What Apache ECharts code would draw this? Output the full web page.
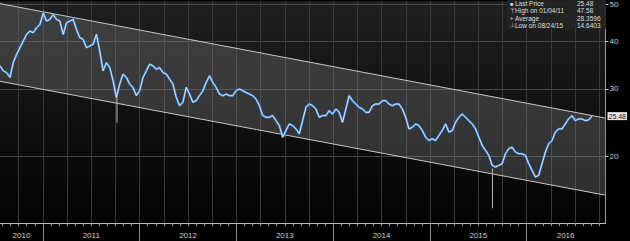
<!DOCTYPE html>
<html><head><meta charset="utf-8">
<script src="https://cdn.jsdelivr.net/npm/echarts@6/dist/echarts.min.js"></script>
<style>html,body{margin:0;padding:0;background:#000;}#c{width:630px;height:241px;}</style>
</head><body><div id="c"></div>
<script>
// ---- data ----
const startYear = 2010.557;      // first sample (decimal year)
const stepYears = 0.034364;      // sample spacing (~12.5 days)
const prices = [
34.47,33.45,33.1,32.15,35.2,36.95,38.46,40.03,41.65,42.49,42.06,43.34,44.2,47.3,45.11,45.56,46.95,45.56,45.11,41.65,44.66,45.11,45.56,42.9,40.83,40.43,38.46,38.85,39.24,41.65,37.7,33.45,35.16,34.12,31.51,28.52,30.89,32.8,32.15,30.89,30.27,28.81,29.68,32.15,33.45,
34.82,34.47,33.78,34.12,33.1,32.8,31.82,30.89,28.52,27.13,27.68,30.27,29.1,27.68,27.96,28.81,29.68,31.19,32.47,31.19,30.27,29.1,28.81,29.1,28.81,28.81,29.68,29.98,29.68,29.38,29.1,28.81,28.24,27.13,25.56,25.3,25.3,25.56,24.8,24.07,22.45,23.37,24.31,24.07,23.59,
22.9,24.8,26.86,27.4,27.13,26.59,25.3,25.56,25.56,26.33,25.8,26.59,26.07,24.55,26.59,28.81,27.96,27.4,26.86,26.59,26.07,26.07,27.13,27.4,27.4,27.96,27.96,27.4,27.13,27.4,27.4,26.59,25.3,23.59,23.83,24.31,24.07,23.37,22.45,22.01,22.23,22.01,22.68,23.37,24.31,
23.14,23.37,24.55,25.3,25.8,25.3,24.8,24.31,23.59,22.45,21.36,20.73,20.12,18.95,18.76,18.95,19.14,20.32,20.94,21.15,20.52,20.32,20.32,20.12,19.14,18.39,17.67,17.85,19.14,20.52,21.57,22.01,23.14,23.59,23.59,24.31,25.05,25.56,24.8,25.05,25.05,24.8,24.9,25.48
];
const spikeDates = [2011.766, 2015.646];
const spikeTops  = [28.5, 18.6];
const spikeLows  = [24.5, 14.64];
const channelDates = [2010.557, 2016.814];
const channelUpper = [50.1, 25.18];
const channelLower = [31.41, 15.84];
const yearLabels   = ['2010','2011','2012','2013','2014','2015','2016'];
const yearLabelPos = [2010.779, 2011.5, 2012.5, 2013.5, 2014.5, 2015.5, 2016.402];
const yearBounds   = [2011, 2012, 2013, 2014, 2015, 2016];
const yTicks = [20, 30, 40, 50];
const yRange = [13.40, 50.84];
const xRange = [2010.557, 2016.814];
const lastPrice = 25.48;
const statIcons  = ['\u25A0', '\u22A4', '+', '\u22A5'];
const statNames  = ['Last Price', 'High on 01/04/11', 'Average', 'Low on 08/24/15'];
const statValues = ['25.48', '47.58', '28.3596', '14.6403'];

// ---- build ----
const lg = Math.log10;
const priceData = prices.map((p, i) => [startYear + i * stepYears, lg(p)]);
const months = [];
for (let y = 2010; y <= 2016; y++) for (let m = 0; m < 12; m++) {
  const v = y + m / 12; if (v > xRange[0] && v < xRange[1]) months.push(v);
}
const quarters = [];
for (let y = 2010; y <= 2016; y++) for (let q = 0; q < 4; q++) {
  const v = y + q / 4; if (v > xRange[0] && v < xRange[1]) quarters.push(v);
}
const FONT = 'Liberation Sans';
const chart = echarts.init(document.getElementById('c'), null, {renderer: 'svg'});

const spikeSeries = spikeDates.map((d, i) => ({
  type: 'line', data: [[d, lg(spikeTops[i])], [d, lg(spikeLows[i])]],
  symbol: 'none', lineStyle: {color: '#b8b8b8', width: 1}, z: 4, silent: true
}));

const channelData = channelDates.map((d, i) => [d, lg(channelUpper[i]), lg(channelLower[i])]);

const graphics = [{
  type: 'rect', shape: {x: 507, y: 0, width: 99, height: 29},
  style: {fill: 'rgba(36,36,36,0.92)'}, z: 100
}];
statNames.forEach((n, i) => {
  const yy = 3.6 + i * 7.2;
  graphics.push({type: 'text', x: 510, y: yy, z: 101,
    style: {text: statIcons[i], fill: '#ddd', font: '5.5px ' + FONT, verticalAlign: 'middle'}});
  graphics.push({type: 'text', x: 515, y: yy, z: 101,
    style: {text: n, fill: '#ddd', font: '6.5px ' + FONT, verticalAlign: 'middle'}});
  graphics.push({type: 'text', x: 577, y: yy, z: 101,
    style: {text: statValues[i], fill: '#ddd', font: '6.5px ' + FONT, verticalAlign: 'middle'}});
});

const yBase = {type: 'value', position: 'right', min: lg(yRange[0]), max: lg(yRange[1])};

chart.setOption({
  animation: false,
  backgroundColor: '#000',
  textStyle: {fontFamily: FONT},
  grid: {left: 0, right: 23, top: 0, bottom: 18, show: true, borderWidth: 0,
    backgroundColor: new echarts.graphic.LinearGradient(0, 0, 0, 1, [
      {offset: 0, color: '#1f1f1f'}, {offset: 1, color: '#030305'}])},
  xAxis: [{
    type: 'value', min: xRange[0], max: xRange[1], position: 'bottom',
    axisLine: {show: true, lineStyle: {color: '#bdbdbd', width: 1}},
    axisTick: {show: true, customValues: yearBounds, length: 18, lineStyle: {color: '#8a8a8a'}},
    axisLabel: {show: true, customValues: yearLabelPos, color: '#cfcfcf', fontSize: 8, margin: 8,
      formatter: v => { let b = 0; yearLabelPos.forEach((p, i) => { if (Math.abs(p - v) < Math.abs(yearLabelPos[b] - v)) b = i; }); return yearLabels[b]; }},
    splitLine: {show: false}
  }, {
    type: 'value', min: xRange[0], max: xRange[1], position: 'bottom', gridIndex: 0,
    axisLine: {show: false}, axisLabel: {show: false}, splitLine: {show: false},
    axisTick: {show: true, customValues: months, length: 3, lineStyle: {color: '#9a9a9a'}}
  }, {
    type: 'value', min: xRange[0], max: xRange[1], position: 'bottom', gridIndex: 0,
    axisLine: {show: false}, axisLabel: {show: false},
    axisTick: {show: false, customValues: quarters},
    splitLine: {show: true, lineStyle: {color: '#3a3a3a', width: 1}}
  }],
  yAxis: [Object.assign({}, yBase, {
    axisLine: {show: true, lineStyle: {color: '#9a9a9a'}},
    axisTick: {show: true, customValues: yTicks.map(lg), length: 3, lineStyle: {color: '#cfcfcf'}},
    axisLabel: {show: true, customValues: yTicks.map(lg), color: '#cfcfcf', fontSize: 8, margin: 4,
      formatter: v => String(Math.round(Math.pow(10, v)))},
    splitLine: {show: true, lineStyle: {color: '#474747', width: 1}}
  }), Object.assign({}, yBase, {
    axisLine: {show: false}, axisTick: {show: false}, splitLine: {show: false},
    axisLabel: {show: true, customValues: [lg(lastPrice)], margin: 2,
      formatter: () => lastPrice.toFixed(2), color: '#111', fontSize: 7,
      backgroundColor: '#e6e6e6', padding: [1, 1, 0, 1]}
  })],
  series: [
    {type: 'custom', data: channelData, z: 1, silent: true,
      renderItem: (params, api) => {
        if (params.dataIndex !== 0) return null;
        const a = channelData[0], b = channelData[1];
        const pts = [api.coord([a[0], a[1]]), api.coord([b[0], b[1]]),
                     api.coord([b[0], b[2]]), api.coord([a[0], a[2]])];
        return {type: 'polygon', shape: {points: pts},
          style: {fill: 'rgba(130,130,130,0.33)', stroke: 'none'}};
      }},
    {type: 'line', data: channelData.map(r => [r[0], r[1]]),
      symbol: 'none', lineStyle: {color: '#c8c8c8', width: 1}, z: 2, silent: true},
    {type: 'line', data: channelData.map(r => [r[0], r[2]]),
      symbol: 'none', lineStyle: {color: '#c8c8c8', width: 1}, z: 2, silent: true},
    ...spikeSeries,
    {type: 'line', data: priceData, symbol: 'none', z: 5, silent: true,
      lineStyle: {color: '#3f8ee0', width: 2.2}},
    {type: 'line', data: priceData, symbol: 'none', z: 6, silent: true,
      lineStyle: {color: '#f4f4f4', width: 0.9, opacity: 0.9}}
  ],
  graphic: graphics
});
</script></body></html>
